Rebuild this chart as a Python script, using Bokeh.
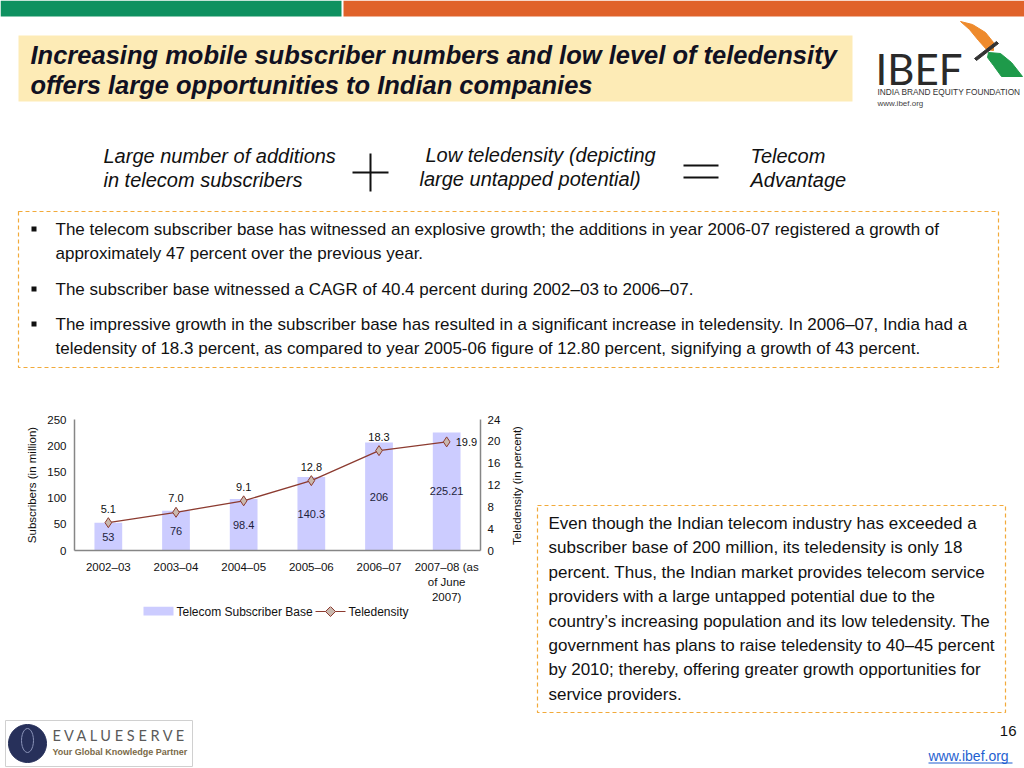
import math
from bokeh.plotting import figure
from bokeh.layouts import column, row
from bokeh.models import (FactorRange, Range1d, LinearAxis, FixedTicker, ColumnDataSource,
                          LabelSet, Label, BoxAnnotation, PolyAnnotation)
from bokeh.core.properties import value
from bokeh.embed import file_html
from bokeh.resources import INLINE

# ---------------- data ----------------
years = ["2002–03", "2003–04", "2004–05", "2005–06", "2006–07", "2007–08 (as\nof June\n2007)"]
subscribers = [53, 76, 98.4, 140.3, 206, 225.21]
subscriber_labels = ["53", "76", "98.4", "140.3", "206", "225.21"]
teledensity = [5.1, 7.0, 9.1, 12.8, 18.3, 19.9]
left_ticks = [0, 50, 100, 150, 200, 250]
right_ticks = [0, 4, 8, 12, 16, 20, 24]
series_names = ["Telecom Subscriber Base", "Teledensity"]

title_lines = ["Increasing mobile subscriber numbers and low level of teledensity",
               "offers large opportunities to Indian companies"]
bullet_lines = [
    "The telecom subscriber base has witnessed an explosive growth; the additions in year 2006-07  registered a growth of",
    "approximately 47 percent over the previous year.",
    "The subscriber base witnessed a CAGR of 40.4 percent during 2002–03 to 2006–07.",
    "The impressive growth in the subscriber base has resulted in a significant increase in teledensity. In 2006–07, India had a",
    "teledensity of 18.3 percent, as compared to year 2005-06  figure of 12.80 percent, signifying a growth of 43 percent.",
]
side_lines = [
    "Even though the Indian telecom industry has exceeded a",
    "subscriber base of 200 million, its teledensity is only 18",
    "percent. Thus, the Indian market provides telecom service",
    "providers with a large untapped potential due to the",
    "country’s increasing population and its low teledensity. The",
    "government has plans to raise teledensity to 40–45 percent",
    "by 2010; thereby, offering greater growth opportunities for",
    "service providers.",
]

FONT = "Liberation Sans"
BAR = "#CCCCFF"
LINE = "#8C3B30"
DIAMOND = "#C9B8AE"
DASH = "#F2AA3A"
INK = "#111111"

# ---------------- chart figure ----------------
CW, CH = 503, 201
FL, FR = 74, 23          # chart frame borders (left / right)
c = figure(x_range=FactorRange(factors=years, range_padding=0), y_range=Range1d(0, 250),
           width=CW, height=CH, output_backend="svg", toolbar_location=None,
           min_border_left=FL, min_border_right=FR, min_border_top=14, min_border_bottom=54)
c.outline_line_color = None
c.background_fill_color = "white"
c.border_fill_color = "white"
c.xgrid.grid_line_color = None
c.ygrid.grid_line_color = None
c.extra_y_ranges = {"tele": Range1d(0, 24)}

right_axis = LinearAxis(y_range_name="tele")
c.add_layout(right_axis, "right")

for ax in [c.xaxis[0], c.yaxis[0], right_axis]:
    ax.axis_line_color = "#868686"
    ax.axis_line_width = 1.5
    ax.major_tick_line_color = None
    ax.minor_tick_line_color = None
    ax.major_tick_out = 0
    ax.major_tick_in = 0
    ax.minor_tick_out = 0
    ax.minor_tick_in = 0
    ax.major_label_text_font = FONT
    ax.major_label_text_font_size = "11.5px"
    ax.major_label_text_color = INK
    ax.axis_label_text_font = FONT
    ax.axis_label_text_font_size = "11.5px"
    ax.axis_label_text_font_style = "normal"
    ax.axis_label_text_color = INK

c.xaxis[0].major_label_standoff = 10
c.xaxis[0].major_label_text_line_height = 1.28
c.yaxis[0].ticker = FixedTicker(ticks=left_ticks)
c.yaxis[0].major_label_standoff = 8
c.yaxis[0].axis_label = "Subscribers (in million)"
c.yaxis[0].axis_label_standoff = 6
right_axis.ticker = FixedTicker(ticks=right_ticks)
right_axis.major_label_standoff = 7

c.vbar(x=years, top=subscribers, width=0.41, fill_color=BAR, line_color=None)
c.line(x=years, y=teledensity, y_range_name="tele", line_color=LINE, line_width=1.3)
c.scatter(x=years, y=teledensity, y_range_name="tele", marker="diamond", size=10,
          fill_color=DIAMOND, line_color=LINE, line_width=1)

bar_src = ColumnDataSource(dict(x=years, mid=[v / 2 for v in subscribers], t=subscriber_labels))
c.add_layout(LabelSet(x="x", y="mid", text="t", source=bar_src, text_align="center",
                      text_baseline="middle", text_font=value(FONT), text_font_size="11px",
                      text_color="#1E1E3C"))

tele_txt = ["%.1f" % v for v in teledensity]
src_a = ColumnDataSource(dict(x=years[:-1], y=teledensity[:-1], t=tele_txt[:-1]))
src_b = ColumnDataSource(dict(x=years[-1:], y=teledensity[-1:], t=tele_txt[-1:]))
c.add_layout(LabelSet(x="x", y="y", text="t", source=src_a, y_range_name="tele", y_offset=14,
                      text_align="center", text_baseline="middle", text_font=value(FONT),
                      text_font_size="11px", text_color=INK))
c.add_layout(LabelSet(x="x", y="y", text="t", source=src_b, y_range_name="tele", x_offset=9,
                      text_align="left", text_baseline="middle", text_font=value(FONT),
                      text_font_size="11px", text_color=INK))


# ---------------- decoration figures (data units = pixels, y down) ----------------
def deco(w, h, x0=0, x1=None, bl=0, br=0):
    f = figure(width=w, height=h, x_range=Range1d(x0, w if x1 is None else x1),
               y_range=Range1d(h, 0), output_backend="svg", toolbar_location=None,
               min_border=0, min_border_left=bl, min_border_right=br,
               x_axis_type=None, y_axis_type=None)
    f.outline_line_color = None
    f.background_fill_color = "white"
    f.border_fill_color = "white"
    return f


def box(f, o, l, t, r, b, fill=None, line=None, dash="solid", lw=1):
    ox, oy = o
    f.add_layout(BoxAnnotation(left=l - ox, right=r - ox, top=t - oy, bottom=b - oy,
                               fill_color=fill if fill else "white", fill_alpha=1 if fill else 0,
                               line_color=line if line else "white", line_alpha=1 if line else 0,
                               line_width=lw, line_dash=dash))


def txt(f, o, x, y, s, size, color=INK, style="normal", align="left", font=FONT, angle=0.0):
    ox, oy = o
    f.add_layout(Label(x=x - ox, y=y - oy, text=s, text_font=font, text_font_size=size,
                       text_color=color, text_font_style=style, text_align=align,
                       text_baseline="middle", angle=angle))


def poly(f, o, pts, fill, line=None, lw=1):
    ox, oy = o
    f.add_layout(PolyAnnotation(xs=[p_ - ox for p_, _ in pts], ys=[q_ - oy for _, q_ in pts],
                                fill_color=fill if fill else "white", fill_alpha=1 if fill else 0,
                                line_color=line if line else fill, line_alpha=1, line_width=lw))


# --- legend strip under the chart (frame aligned with the chart frame) ---
LO = (0, 405 + CH)
lg = deco(CW, 313 - CH, x0=FL, x1=CW - FR, bl=FL, br=FR)
box(lg, LO, 143, 606, 173, 615, fill=BAR)
txt(lg, LO, 176, 611, series_names[0], "12px")
box(lg, LO, 315, 610.4, 345, 611.6, fill=LINE)
poly(lg, LO, [(330, 606), (335, 611), (330, 616), (325, 611)], DIAMOND, line=LINE)
txt(lg, LO, 348, 611, series_names[1], "12px")

# --- top part ---
AO = (0, 0)
a = deco(1024, 405)
box(a, AO, 0, 0, 341, 16, fill="#0E9160")
box(a, AO, 343, 0, 1024, 16, fill="#E0622A")
box(a, AO, 18, 35, 852, 101, fill="#FDEBB6")
txt(a, AO, 30, 54, title_lines[0], "25.5px", color="#111122", style="bold italic")
txt(a, AO, 30, 84, title_lines[1], "25.5px", color="#111122", style="bold italic")

txt(a, AO, 875, 68, "IBEF", "42px", color="#2A2A2A", font="Lato")
poly(a, AO, [(960, 21), (972, 24), (985, 32), (993, 42), (993, 50), (986, 49), (978, 40), (969, 29)], "#EE8A2C")
poly(a, AO, [(988, 52), (1000, 53), (1011, 62), (1022, 76), (1001, 76), (993, 65), (987, 57)], "#1E9A4A")
poly(a, AO, [(974, 58), (996, 41), (998, 43), (976, 60)], "#333333")
txt(a, AO, 877, 91, "INDIA BRAND EQUITY FOUNDATION", "8.3px", color="#333333")
txt(a, AO, 877, 103, "www.ibef.org", "8px", color="#444444")

txt(a, AO, 103, 155, "Large number of additions", "20px", style="italic")
txt(a, AO, 103, 179, "in telecom subscribers", "20px", style="italic")
box(a, AO, 352, 171, 388, 173, fill=INK)
box(a, AO, 369, 153, 371, 191, fill=INK)
txt(a, AO, 425, 154, "Low teledensity (depicting", "20px", style="italic")
txt(a, AO, 419, 178, "large untapped potential)", "20px", style="italic")
box(a, AO, 683, 164, 718, 166, fill=INK)
box(a, AO, 683, 176, 718, 178, fill=INK)
txt(a, AO, 750, 155, "Telecom", "20px", style="italic")
txt(a, AO, 750, 179, "Advantage", "20px", style="italic")

box(a, AO, 18, 211, 998, 367, line=DASH, dash="4 3", lw=1.2)
bullet_y = [229, 253, 289, 324, 348]
for i, (yy, s) in enumerate(zip(bullet_y, bullet_lines)):
    if i in (0, 2, 3):
        box(a, AO, 31, yy - 3, 36, yy + 2, fill=INK)
    txt(a, AO, 55, yy, s, "17px")

# --- right part: teledensity axis title + commentary ---
RO = (CW, 405)
r = deco(1024 - CW, 313)
txt(r, RO, 516, 485, "Teledensity (in percent)", "11.5px", align="center", angle=math.pi / 2)
box(r, RO, 537, 505, 1005, 712, line=DASH, dash="4 3", lw=1.2)
for k, s in enumerate(side_lines):
    txt(r, RO, 548, 523 + k * 24.4, s, "17px")

# --- footer ---
FO = (0, 718)
ft = deco(1024, 50)
box(ft, FO, 5, 720, 192, 766, line="#D0D0D0")
circle = [(27 + 19 * math.cos(k * math.pi / 20), 743 + 19 * math.sin(k * math.pi / 20)) for k in range(40)]
poly(ft, FO, circle, "#27305A")
tree = [(27 + 6 * math.cos(k * math.pi / 12), 740 + 12 * math.sin(k * math.pi / 12)) for k in range(24)]
poly(ft, FO, tree, None, line="#8A93B8")
txt(ft, FO, 52, 735, "E V A L U E S E R V E", "14.5px", color="#5A5A5A", font="Lato")
txt(ft, FO, 52, 751, "Your Global Knowledge Partner", "9px", color="#7A6A48", style="bold")
txt(ft, FO, 1016, 730, "16", "15px", align="right")
txt(ft, FO, 928, 755, "www.ibef.org", "14px", color="#1F5FD0")
box(ft, FO, 928, 762, 1012, 763, fill="#1F5FD0")

layout = column(a, row(column(c, lg), r), ft)
open("out.html", "w").write(file_html(layout, INLINE))
